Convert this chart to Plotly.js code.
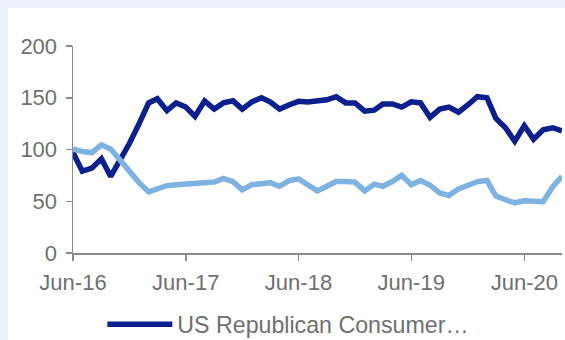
<!DOCTYPE html>
<html>
<head>
<meta charset="utf-8">
<script src="https://cdn.plot.ly/plotly-3.0.1.min.js"></script>
<style>
  html, body { margin: 0; padding: 0; width: 565px; height: 340px; overflow: hidden; background: #edf2fa; }
  #chart { position: absolute; left: 8px; top: 8px; width: 557px; height: 332px; background: #ffffff; }
</style>
</head>
<body>
<div id="chart"></div>
<script>
const months = [
  '2016-06-01','2016-07-01','2016-08-01','2016-09-01','2016-10-01','2016-11-01','2016-12-01',
  '2017-01-01','2017-02-01','2017-03-01','2017-04-01','2017-05-01','2017-06-01','2017-07-01',
  '2017-08-01','2017-09-01','2017-10-01','2017-11-01','2017-12-01','2018-01-01','2018-02-01',
  '2018-03-01','2018-04-01','2018-05-01','2018-06-01','2018-07-01','2018-08-01','2018-09-01',
  '2018-10-01','2018-11-01','2018-12-01','2019-01-01','2019-02-01','2019-03-01','2019-04-01',
  '2019-05-01','2019-06-01','2019-07-01','2019-08-01','2019-09-01','2019-10-01','2019-11-01',
  '2019-12-01','2020-01-01','2020-02-01','2020-03-01','2020-04-01','2020-05-01','2020-06-01',
  '2020-07-01','2020-08-01','2020-09-01','2020-10-01'
];
const republican = [
  97, 79, 82, 91, 74, 90, 106,
  125, 145, 149, 137.5, 145, 141, 132,
  147, 139, 145, 147, 139, 146, 150,
  146, 139, 143, 146.5, 146, 147, 148,
  151, 145, 145, 137, 138, 144, 144,
  141, 146, 145, 131, 139, 141, 136,
  143, 151, 150, 130, 121, 108, 123,
  110, 119, 121, 118
];
const democrat = [
  100.5, 98, 97, 104.5, 100.5, 90, 78,
  68, 59, 62, 65, 66, 66.5, 68,
  68, 68.5, 72, 69, 61, 66, 67,
  68, 64.5, 70, 71.5, 66, 60, 64.5,
  69, 69, 68.5, 60, 66.5, 64.5, 69,
  75, 66, 70, 65.5, 58, 55.5, 62,
  66, 69, 70, 55, 51.5, 48.5, 50.5,
  49.5, 49.5, 64, 74
];
const xTickVals = ['2016-06-01','2017-06-01','2018-06-01','2019-06-01','2020-06-01'];
const xTickText = ['Jun-16','Jun-17','Jun-18','Jun-19','Jun-20'];
const yTickVals = [0, 50, 100, 150, 200];

const gray = '#6f6f6f';
const axisGray = '#8a8a8a';
const font = 'Liberation Sans, Arial, sans-serif';

const traces = [
  {
    x: months, y: republican, type: 'scatter', mode: 'lines',
    name: 'US Republican Consumer…',
    line: { color: '#0b1f8e', width: 5.5 },
    showlegend: true
  },
  {
    x: months, y: democrat, type: 'scatter', mode: 'lines',
    name: 'US Democrat Consumer…',
    line: { color: '#7db2e1', width: 5.5 },
    showlegend: false
  }
];

const layout = {
  width: 557, height: 332,
  margin: { l: 65.3, r: 3.1, t: 38.3, b: 86.6, pad: 0, autoexpand: false },
  paper_bgcolor: '#ffffff',
  plot_bgcolor: '#ffffff',
  font: { family: font, size: 22, color: gray },
  showlegend: true,
  legend: {
    orientation: 'h',
    x: 0.06, xanchor: 'left',
    y: -0.346, yanchor: 'middle',
    itemwidth: 65,
    font: { family: font, size: 23.2, color: gray },
    bgcolor: 'rgba(0,0,0,0)'
  },
  xaxis: {
    type: 'date',
    range: ['2016-06-01', '2020-10-01'],
    tickvals: xTickVals,
    ticktext: xTickText,
    ticks: 'outside', ticklen: 6, tickwidth: 1.5, tickcolor: axisGray,
    showline: true, linecolor: axisGray, linewidth: 1.5,
    showgrid: false, zeroline: false,
    tickfont: { family: font, size: 22, color: gray },
    ticklabelstandoff: 3
  },
  yaxis: {
    range: [0, 200],
    tickvals: yTickVals,
    ticks: 'outside', ticklen: 6, tickwidth: 1.5, tickcolor: axisGray,
    showline: true, linecolor: axisGray, linewidth: 1.5,
    showgrid: false, zeroline: false,
    tickfont: { family: font, size: 22, color: gray },
    ticklabelstandoff: 4
  }
};

Plotly.newPlot('chart', traces, layout, { staticPlot: true, displayModeBar: false });
</script>
</body>
</html>
